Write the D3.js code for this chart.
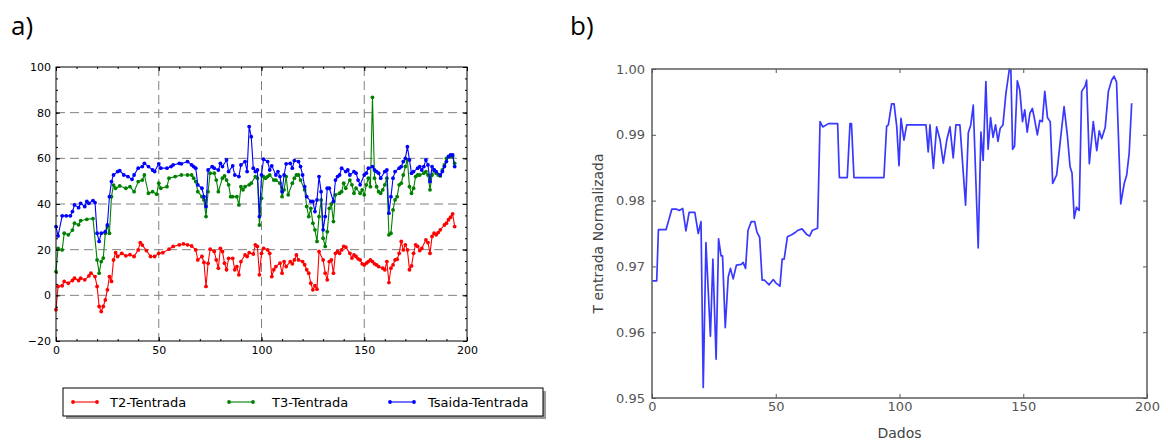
<!DOCTYPE html>
<html>
<head>
<meta charset="utf-8">
<script src="https://cdn.jsdelivr.net/npm/d3@7"></script>
<style>
  body { margin: 0; background: #fff; }
  svg { display: block; }
</style>
</head>
<body>
<script>
// ---- panel a) : temperature differences, [index, value]
var t2 = [[0,-6.3],[1,3.9],[3,4.2],[4,6.1],[6,5.3],[8,6.5],[9,7.5],[11,6.5],[12,7.5],[14,6.8],[16,8.5],[17,9.7],[19,8.2],[20,3.9],[21,-4.9],[22,-7.1],[23,-4.9],[24,-2],[25,2.4],[26,8.2],[27,6.1],[28,15.5],[29,18.7],[30,17],[32,18.4],[34,17.3],[36,17.8],[38,17],[40,19.9],[41,23.1],[42,22],[44,19.6],[46,17],[48,17],[50,18.4],[52,18.7],[55,20.2],[57,21.4],[60,22.1],[62,22.5],[64,22.1],[66,21.6],[68,19.9],[69,15.5],[71,17],[72,14.4],[73,3.9],[74,14],[75,20.2],[77,19.2],[78,15.5],[79,11.9],[80,20.6],[81,19.2],[82,14.1],[83,11.2],[84,16.2],[86,16.2],[87,11.2],[88,12.6],[89,9],[90,14.8],[92,17.7],[93,17],[94,18.7],[96,18.1],[97,22.1],[98,21.4],[99,9],[100,18.4],[101,20.6],[103,19.9],[104,18.4],[105,8.2],[106,11.2],[107,12.6],[109,14.1],[110,9.7],[111,14.8],[112,12.6],[114,14.8],[115,13.8],[116,15.5],[117,17.7],[118,15.5],[120,14.8],[121,13.4],[122,11.2],[123,9.7],[124,5.3],[125,2.4],[126,4.2],[127,2.7],[128,19.2],[130,15.5],[131,9.7],[132,6.8],[133,14.8],[134,15.5],[135,9.7],[136,18.4],[137,19.2],[138,18.4],[139,19.9],[140,21.4],[141,21.1],[143,18.4],[144,16.3],[145,17.7],[146,17],[147,16],[148,15.5],[149,13.8],[150,13.3],[151,14.1],[152,14.8],[153,15.5],[154,14.8],[155,13.8],[156,13.3],[157,12.6],[159,11.9],[160,11.2],[161,14.8],[162,5.6],[163,11.9],[164,13.3],[165,15.5],[166,15.8],[167,18.4],[168,23.6],[169,19.9],[170,22.1],[171,19.9],[172,11.2],[173,12.9],[174,18.4],[175,22.1],[176,21.4],[177,19.6],[178,20.6],[180,24.3],[181,23.1],[182,18.4],[183,25.8],[184,27.2],[185,26.5],[186,27.5],[187,28.7],[189,30.8],[190,31.6],[191,33.1],[192,34.2],[193,35.7],[194,30.1]];

var t3 = [[0,10.4],[1,20.6],[3,19.9],[4,27.2],[6,26.5],[8,28.6],[9,31.6],[11,30.9],[12,32.7],[15,33.3],[18,33.6],[20,15.5],[21,9.7],[22,14.8],[23,16.3],[24,27.2],[25,30.1],[26,27.2],[27,43.2],[28,48.3],[29,46.9],[31,47.9],[34,46.9],[36,47.6],[38,45.4],[40,49.8],[42,50.5],[43,52.7],[45,44.7],[47,45.4],[49,44.3],[50,49.1],[51,46.9],[54,47.6],[55,51.3],[58,52],[61,52.7],[64,52.7],[66,52.7],[67,51.3],[68,49.8],[69,45.4],[71,43.2],[72,41.8],[73,34.5],[74,45.4],[75,53.5],[77,53.5],[78,50.5],[79,45.4],[81,51.3],[82,52.3],[83,50.5],[84,48.4],[85,43.2],[86,43.2],[88,43.2],[89,39.6],[90,47.6],[91,46.2],[92,47.6],[94,48.4],[95,49.1],[97,52],[98,51.3],[99,30.8],[100,42.5],[101,52],[102,51.3],[103,52],[104,52.7],[106,50.5],[107,50.5],[109,49.1],[110,43.2],[111,46.2],[112,52],[113,44],[115,49.1],[116,51.3],[117,52.7],[118,52.7],[119,50.5],[121,46.2],[122,38.9],[123,34.5],[124,38.1],[125,31.6],[126,28.7],[127,23.6],[128,34.5],[129,41.8],[130,25],[131,21.4],[132,27.9],[133,38.1],[134,40],[135,32.3],[136,44],[138,44.7],[139,45.4],[140,49.1],[141,46.9],[143,50.5],[144,48.4],[145,44.7],[146,46.9],[148,44.7],[149,46.2],[150,44],[151,48.4],[152,51.3],[153,47.6],[154,86.7],[155,51.3],[156,47.6],[157,45.4],[158,44.7],[159,46.2],[160,48.4],[161,51.3],[162,26.5],[163,27.2],[164,37.4],[165,41.8],[166,43.2],[167,48.4],[168,49.1],[169,52.7],[170,56.4],[171,59.3],[172,47.6],[173,44.7],[174,46.9],[175,52],[176,52.7],[177,52.7],[179,53.5],[180,54.2],[181,52.7],[182,46.2],[183,52.7],[184,54.9],[185,53.5],[186,52.7],[187,52.3],[188,54.9],[189,57.1],[190,60],[192,60.8],[193,60.8],[194,57.8]];

var tsaida = [[0,30.1],[1,26],[3,34.8],[5,34.8],[7,34.8],[8,36.7],[9,39.6],[11,38.4],[12,40.3],[14,38.9],[15,41.1],[16,40.3],[18,41.5],[19,40.6],[20,27.2],[21,23.6],[22,27.2],[24,27.9],[25,30.8],[26,43.2],[27,49.8],[28,52.7],[30,54.2],[31,54.6],[33,52.7],[35,52],[37,50.8],[38,52.7],[40,55.7],[42,56.4],[43,57.8],[45,56.4],[47,54.9],[48,54.2],[50,57.6],[51,55.7],[54,55.7],[56,56.4],[57,57.1],[60,57.8],[61,57.6],[64,58.6],[66,57.1],[67,56.4],[68,55.7],[69,48.4],[71,46.9],[72,43.2],[73,38.9],[74,54.9],[76,56.4],[77,55.7],[79,54.9],[80,57.8],[81,56.4],[83,59.3],[84,54.2],[86,56.7],[87,52.7],[89,52],[90,57.1],[92,58.6],[93,54.2],[94,73.9],[95,69.5],[96,55.7],[97,54.2],[98,54.9],[99,34.5],[100,52.7],[101,59.6],[103,58.6],[104,54.9],[105,56.7],[107,52.7],[108,54.2],[109,52],[110,45.4],[111,52.7],[112,57.6],[114,57.8],[115,55.7],[116,59],[118,58.6],[119,56.4],[120,52.7],[121,47.6],[122,43.2],[124,41.1],[125,41.1],[126,36.7],[127,41.8],[128,52],[129,45.4],[130,28.7],[131,34.5],[132,46.9],[133,46.9],[135,41.1],[136,50.5],[137,52],[138,52.7],[139,55.7],[141,54.2],[142,54.9],[143,52.7],[145,54.2],[146,53.5],[147,50.5],[148,48.4],[150,52.7],[151,53.5],[152,55.7],[154,56.4],[155,54.9],[156,54.2],[157,53.5],[158,51.3],[160,54.2],[161,54.9],[162,36],[163,43.2],[164,51.3],[165,54.2],[167,55.7],[168,56.4],[169,58.6],[170,60],[171,65.1],[172,59.3],[173,53.5],[174,54.2],[176,55.7],[177,56.4],[178,54.9],[179,56.4],[180,59.3],[181,57.1],[182,49.8],[183,56.4],[184,54.9],[185,54.2],[187,52.7],[188,54.2],[189,56.4],[190,58.6],[191,60.8],[192,61.5],[193,61.5],[194,56.4]];

var seriesNames = ["T2-Tentrada", "T3-Tentrada", "Tsaida-Tentrada"];
var seriesColors = ["#ff0000", "#008000", "#0000ff"];
var aXTicks = [0, 50, 100, 150, 200];
var aYTicks = [-20, 0, 20, 40, 60, 80, 100];

// ---- panel b) : normalized inlet temperature, [index, value]
var tNorm = [[0,0.9678],[1.9,0.9678],[2.6,0.9756],[5.7,0.9756],[8,0.9787],[10,0.9787],[11,0.9785],[12.4,0.9788],[13.7,0.9754],[15,0.9782],[17.3,0.9782],[18.7,0.9750],[19.8,0.9768],[20.7,0.9516],[21.8,0.9736],[23.6,0.9594],[24.6,0.9711],[25.9,0.9559],[26.9,0.9742],[27.9,0.9716],[28.5,0.9716],[29.6,0.9607],[30.8,0.9684],[31.7,0.9697],[32.8,0.9681],[34.1,0.9702],[36.1,0.9703],[36.8,0.9706],[37.8,0.9697],[38.8,0.9755],[40.1,0.9768],[41.5,0.9768],[42.4,0.9752],[43.5,0.9744],[44.5,0.9679],[45.5,0.9679],[47.3,0.9672],[49,0.9680],[50,0.9675],[51.7,0.9670],[52.6,0.9711],[53.4,0.9711],[54.7,0.9745],[56.4,0.9748],[57.7,0.9751],[59,0.9755],[60.6,0.9757],[62.4,0.9749],[63.7,0.9746],[64.8,0.9755],[66.9,0.9758],[67.9,0.9920],[69,0.9912],[71.3,0.9917],[75,0.9917],[75.7,0.9835],[78.9,0.9835],[80,0.9917],[80.6,0.9917],[81.6,0.9835],[93.7,0.9835],[94.8,0.9913],[95.5,0.9915],[96.8,0.9947],[97.8,0.9947],[98.9,0.9912],[99.8,0.9853],[100.6,0.9925],[101.8,0.9892],[102.9,0.9915],[110.7,0.9915],[111.6,0.9874],[112.3,0.9915],[113.7,0.9849],[115,0.9912],[116.4,0.9892],[117.7,0.9857],[119.1,0.9892],[120.4,0.9912],[121.7,0.9865],[122.8,0.9915],[124.4,0.9915],[126.7,0.9793],[127.8,0.9903],[128.8,0.9915],[129.8,0.9945],[131.8,0.9728],[132.9,0.9904],[133.8,0.9861],[134.9,0.9981],[135.8,0.9878],[136.8,0.9926],[137.8,0.9896],[138.8,0.9915],[139.8,0.9890],[140.7,0.9910],[141.8,0.9915],[143,0.9963],[144.4,1.0],[145,0.9998],[145.7,0.9878],[146.5,0.9883],[147.6,0.9982],[148.6,0.9968],[149.7,0.9920],[150.6,0.9938],[151.6,0.9904],[152.7,0.9933],[153.7,0.9940],[154.6,0.9923],[155.7,0.9900],[156.7,0.9922],[157.7,0.9920],[158.7,0.9966],[159.8,0.9926],[160.9,0.9920],[161.9,0.9826],[163.5,0.9839],[164.9,0.9888],[166.5,0.9943],[167.8,0.9900],[168.9,0.9852],[169.7,0.9842],[170.6,0.9773],[171.5,0.9790],[172.6,0.9785],[173.6,0.9966],[175,0.9974],[175.6,0.9983],[176.7,0.9856],[178.3,0.9920],[179.7,0.9876],[180.7,0.9906],[181.7,0.9894],[183.1,0.9911],[184.4,0.9966],[185.7,0.9983],[186.7,0.9989],[187.7,0.9980],[189.4,0.9795],[190.8,0.9826],[191.8,0.9839],[192.8,0.9872],[193.8,0.9948]];

var bXTicks = [0, 50, 100, 150, 200];
var bYTicks = [0.95, 0.96, 0.97, 0.98, 0.99, 1.00];

var svg = d3.select("body").append("svg")
    .attr("width", 1168)
    .attr("height", 441);

// panel letters
svg.append("text").attr("x", 11).attr("y", 35).text("a)")
    .style("font-family", "'Open Sans', sans-serif").style("font-size", "26px").style("fill", "#000");
svg.append("text").attr("x", 570).attr("y", 35).text("b)")
    .style("font-family", "'Open Sans', sans-serif").style("font-size", "26px").style("fill", "#000");

// ****************** panel a ***************************
var A = {left: 56, right: 467, top: 67, bottom: 341};
var xa = d3.scaleLinear().domain([0, 200]).range([A.left, A.right]);
var ya = d3.scaleLinear().domain([-20, 100]).range([A.bottom, A.top]);

var ga = svg.append("g").attr("class", "panel-a");

// dashed grid on major ticks
ga.selectAll("line.vgrid")
    .data(aXTicks.filter(function(d) { return d > 0 && d < 200; }))
  .enter().append("line")
    .attr("x1", function(d) { return xa(d); }).attr("x2", function(d) { return xa(d); })
    .attr("y1", A.top).attr("y2", A.bottom)
    .attr("stroke", "#808080").attr("stroke-width", 1).attr("stroke-dasharray", "9,5");
ga.selectAll("line.hgrid")
    .data(aYTicks.filter(function(d) { return d > -20 && d < 100; }))
  .enter().append("line")
    .attr("x1", A.left).attr("x2", A.right)
    .attr("y1", function(d) { return ya(d); }).attr("y2", function(d) { return ya(d); })
    .attr("stroke", "#808080").attr("stroke-width", 1).attr("stroke-dasharray", "9,5");

// series lines + dot markers
var lineA = d3.line()
    .x(function(d) { return xa(d[0]); })
    .y(function(d) { return ya(d[1]); });

var seriesA = [t2, t3, tsaida];
seriesA.forEach(function(s, i) {
  ga.append("path")
      .datum(s)
      .attr("d", lineA)
      .attr("fill", "none")
      .attr("stroke", seriesColors[i])
      .attr("stroke-width", 1.1)
      .attr("stroke-linejoin", "round");
  ga.selectAll("circle.s" + i)
      .data(s)
    .enter().append("circle")
      .attr("class", "s" + i)
      .attr("cx", function(d) { return xa(d[0]); })
      .attr("cy", function(d) { return ya(d[1]); })
      .attr("r", 1.9)
      .attr("fill", seriesColors[i]);
});

// frame
ga.append("rect")
    .attr("x", A.left).attr("y", A.top)
    .attr("width", A.right - A.left).attr("height", A.bottom - A.top)
    .attr("fill", "none").attr("stroke", "#000").attr("stroke-width", 1);

function styleAxis(g, col, size) {
  g.select(".domain").remove();
  g.selectAll(".tick line").attr("stroke", col);
  g.selectAll(".tick text")
      .style("font-family", "'DejaVu Sans', sans-serif")
      .style("font-size", size)
      .attr("fill", col);
}

// major ticks (inward) with labels, minor ticks on all sides
ga.append("g").attr("transform", "translate(0," + A.bottom + ")")
    .call(d3.axisBottom(xa).tickValues(aXTicks).tickSizeInner(-4).tickSizeOuter(0).tickPadding(5).tickFormat(d3.format("d")))
    .call(styleAxis, "#000", "11px");
ga.append("g").attr("transform", "translate(" + A.left + ",0)")
    .call(d3.axisLeft(ya).tickValues(aYTicks).tickSizeInner(-4).tickSizeOuter(0).tickPadding(5).tickFormat(d3.format("d")))
    .call(styleAxis, "#000", "11px");
ga.append("g").attr("transform", "translate(0," + A.top + ")")
    .call(d3.axisTop(xa).tickValues(aXTicks).tickSizeInner(-4).tickSizeOuter(0).tickFormat(""))
    .call(styleAxis, "#000", "11px");
ga.append("g").attr("transform", "translate(" + A.right + ",0)")
    .call(d3.axisRight(ya).tickValues(aYTicks).tickSizeInner(-4).tickSizeOuter(0).tickFormat(""))
    .call(styleAxis, "#000", "11px");

var minorX = d3.range(0, 201, 10), minorY = d3.range(-20, 101, 5);
ga.append("g").attr("transform", "translate(0," + A.bottom + ")")
    .call(d3.axisBottom(xa).tickValues(minorX).tickSize(-2).tickFormat("")).call(styleAxis, "#000", "11px");
ga.append("g").attr("transform", "translate(0," + A.top + ")")
    .call(d3.axisTop(xa).tickValues(minorX).tickSize(-2).tickFormat("")).call(styleAxis, "#000", "11px");
ga.append("g").attr("transform", "translate(" + A.left + ",0)")
    .call(d3.axisLeft(ya).tickValues(minorY).tickSize(-2).tickFormat("")).call(styleAxis, "#000", "11px");
ga.append("g").attr("transform", "translate(" + A.right + ",0)")
    .call(d3.axisRight(ya).tickValues(minorY).tickSize(-2).tickFormat("")).call(styleAxis, "#000", "11px");

// legend under the plot
var lg = ga.append("g").attr("class", "legend");
lg.append("rect").attr("x", 66).attr("y", 391).attr("width", 480).attr("height", 28)
    .attr("fill", "#9a9a9a");
lg.append("rect").attr("x", 63).attr("y", 388).attr("width", 480).attr("height", 28)
    .attr("fill", "#fff").attr("stroke", "#000").attr("stroke-width", 1);
var legX = [73, 229, 390], legTextX = [110, 272, 428];
seriesNames.forEach(function(name, i) {
  lg.append("line")
      .attr("x1", legX[i]).attr("x2", legX[i] + 24)
      .attr("y1", 402).attr("y2", 402)
      .attr("stroke", seriesColors[i]).attr("stroke-width", 1.1);
  [legX[i], legX[i] + 24].forEach(function(px) {
    lg.append("circle").attr("cx", px).attr("cy", 402).attr("r", 1.9).attr("fill", seriesColors[i]);
  });
  lg.append("text")
      .attr("x", legTextX[i]).attr("y", 407)
      .text(name)
      .style("font-family", "'DejaVu Sans', sans-serif")
      .style("font-size", "13px")
      .attr("fill", "#000");
});

// ****************** panel b ***************************
var B = {left: 652, right: 1147, top: 69, bottom: 398};
var xb = d3.scaleLinear().domain([0, 200]).range([B.left, B.right]);
var yb = d3.scaleLinear().domain([0.95, 1.0]).range([B.bottom, B.top]);
var gb = svg.append("g").attr("class", "panel-b");
var grayB = "#555";

gb.append("path")
    .datum(tNorm)
    .attr("d", d3.line()
        .x(function(d) { return xb(d[0]); })
        .y(function(d) { return yb(d[1]); }))
    .attr("fill", "none")
    .attr("stroke", "#1515ff")
    .attr("stroke-opacity", 0.85)
    .attr("stroke-width", 1.7)
    .attr("stroke-linejoin", "round");

gb.append("rect")
    .attr("x", B.left).attr("y", B.top)
    .attr("width", B.right - B.left).attr("height", B.bottom - B.top)
    .attr("fill", "none").attr("stroke", "#666").attr("stroke-width", 1.6);

gb.append("g").attr("transform", "translate(0," + B.bottom + ")")
    .call(d3.axisBottom(xb).tickValues(bXTicks).tickSizeInner(-4).tickSizeOuter(0).tickPadding(4).tickFormat(d3.format("d")))
    .call(styleAxis, grayB, "13px");
gb.append("g").attr("transform", "translate(" + B.left + ",0)")
    .call(d3.axisLeft(yb).tickValues(bYTicks).tickSizeInner(-4).tickSizeOuter(0).tickPadding(7).tickFormat(d3.format(".2f")))
    .call(styleAxis, grayB, "13px");
gb.append("g").attr("transform", "translate(0," + B.top + ")")
    .call(d3.axisTop(xb).tickValues(bXTicks).tickSizeInner(-4).tickSizeOuter(0).tickFormat(""))
    .call(styleAxis, grayB, "13px");
gb.append("g").attr("transform", "translate(" + B.right + ",0)")
    .call(d3.axisRight(yb).tickValues(bYTicks).tickSizeInner(-4).tickSizeOuter(0).tickFormat(""))
    .call(styleAxis, grayB, "13px");

gb.append("text")
    .attr("x", (B.left + B.right) / 2).attr("y", 438)
    .attr("text-anchor", "middle")
    .text("Dados")
    .style("font-family", "'DejaVu Sans', sans-serif").style("font-size", "14px")
    .attr("fill", "#444");
gb.append("text")
    .attr("transform", "translate(603," + (B.top + B.bottom) / 2 + ") rotate(-90)")
    .attr("text-anchor", "middle")
    .text("T entrada Normalizada")
    .style("font-family", "'DejaVu Sans', sans-serif").style("font-size", "14px")
    .attr("fill", "#444");
</script>
</body>
</html>
